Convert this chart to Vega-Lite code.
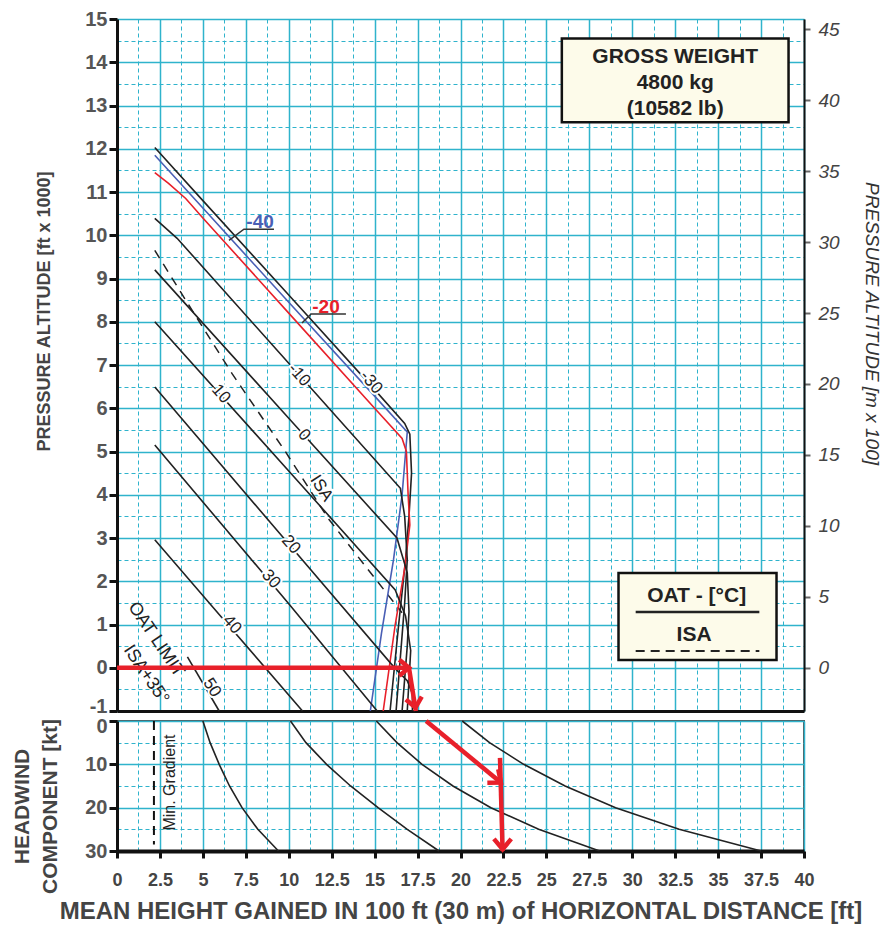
{
  "$schema": "https://vega.github.io/schema/vega-lite/v6.json",
  "background": "white",
  "padding": {"left": 10, "top": 9, "right": 5, "bottom": 5},
  "spacing": 10,
  "bounds": "flush",
  "config": {"font": "Liberation Sans", "axis": {"labelFont": "Liberation Sans", "titleFont": "Liberation Sans"}},
  "datasets": {
    "oat": [
      {"s": "-40", "x": 2.2, "y": 11.85}, {"s": "-40", "x": 5, "y": 10.63}, {"s": "-40", "x": 10, "y": 8.45}, {"s": "-40", "x": 15, "y": 6.28}, {"s": "-40", "x": 16.9, "y": 5.45}, {"s": "-40", "x": 16.6, "y": 4.0}, {"s": "-40", "x": 16.1, "y": 2.5}, {"s": "-40", "x": 15.4, "y": 0.8}, {"s": "-40", "x": 14.75, "y": -1},
      {"s": "-30", "x": 2.2, "y": 12.03}, {"s": "-30", "x": 5, "y": 10.8}, {"s": "-30", "x": 10, "y": 8.62}, {"s": "-30", "x": 15, "y": 6.43}, {"s": "-30", "x": 16.75, "y": 5.65}, {"s": "-30", "x": 17.05, "y": 5.4}, {"s": "-30", "x": 17.15, "y": 4.5}, {"s": "-30", "x": 17.0, "y": 3.5}, {"s": "-30", "x": 16.8, "y": 2.5}, {"s": "-30", "x": 16.4, "y": 1.0}, {"s": "-30", "x": 15.9, "y": -1},
      {"s": "-20", "x": 2.2, "y": 11.45}, {"s": "-20", "x": 3.0, "y": 11.2}, {"s": "-20", "x": 4.0, "y": 10.85}, {"s": "-20", "x": 5.0, "y": 10.4}, {"s": "-20", "x": 10, "y": 8.2}, {"s": "-20", "x": 15, "y": 6.0}, {"s": "-20", "x": 16.6, "y": 5.3}, {"s": "-20", "x": 16.85, "y": 5.0}, {"s": "-20", "x": 16.95, "y": 4.0}, {"s": "-20", "x": 17.05, "y": 3.3}, {"s": "-20", "x": 16.75, "y": 2.3}, {"s": "-20", "x": 16.2, "y": 1.0}, {"s": "-20", "x": 15.5, "y": -1},
      {"s": "-10", "x": 2.2, "y": 10.39}, {"s": "-10", "x": 3.5, "y": 9.93}, {"s": "-10", "x": 10, "y": 7.04}, {"s": "-10", "x": 16.5, "y": 4.15}, {"s": "-10", "x": 16.75, "y": 3.5}, {"s": "-10", "x": 16.9, "y": 2.5}, {"s": "-10", "x": 16.75, "y": 1.5}, {"s": "-10", "x": 16.25, "y": -1},
      {"s": "0", "x": 2.2, "y": 9.2}, {"s": "0", "x": 10, "y": 5.77}, {"s": "0", "x": 16.3, "y": 3.0}, {"s": "0", "x": 16.9, "y": 2.2}, {"s": "0", "x": 17.0, "y": 1.3}, {"s": "0", "x": 16.9, "y": 0.5}, {"s": "0", "x": 16.6, "y": -1},
      {"s": "10", "x": 2.2, "y": 8.0}, {"s": "10", "x": 10, "y": 4.55}, {"s": "10", "x": 16.2, "y": 1.8}, {"s": "10", "x": 16.8, "y": 1.2}, {"s": "10", "x": 17.1, "y": 0.4}, {"s": "10", "x": 16.9, "y": -1},
      {"s": "20", "x": 2.2, "y": 6.49}, {"s": "20", "x": 10, "y": 2.86}, {"s": "20", "x": 16.2, "y": -0.02}, {"s": "20", "x": 16.9, "y": -0.3}, {"s": "20", "x": 17.2, "y": -0.6}, {"s": "20", "x": 17.2, "y": -1},
      {"s": "30", "x": 2.2, "y": 5.15}, {"s": "30", "x": 10, "y": 1.48}, {"s": "30", "x": 15.15, "y": -1},
      {"s": "40", "x": 2.2, "y": 2.96}, {"s": "40", "x": 6.0, "y": 1.21}, {"s": "40", "x": 10.8, "y": -1},
      {"s": "50", "x": 4.1, "y": 0.25}, {"s": "50", "x": 5.95, "y": -1}
    ],
    "isa": [
      {"x": 2.2, "y": 9.65}, {"x": 4.0, "y": 8.5}, {"x": 6.7, "y": 6.8}, {"x": 9.8, "y": 5.0}, {"x": 12.3, "y": 3.45}, {"x": 14.5, "y": 2.33}, {"x": 16.6, "y": 1.27}
    ],
    "lbl1": [
      {"t": "-30", "x": 14.8, "y": 6.6}, {"t": "-10", "x": 10.6, "y": 6.77}, {"t": "10", "x": 6.05, "y": 6.33}, {"t": "0", "x": 10.9, "y": 5.38},
      {"t": "20", "x": 10.13, "y": 2.85}, {"t": "30", "x": 8.97, "y": 2.05}, {"t": "40", "x": 6.7, "y": 1.0}
    ],
    "lbl2": [{"t": "ISA", "x": 11.9, "y": 4.15}, {"t": "50", "x": 5.53, "y": -0.46}],
    "lbl3": [{"t": "OAT LIMIT", "x": 2.27, "y": 0.65}, {"t": "ISA+35°", "x": 1.69, "y": -0.16}],
    "clbl": [{"s": "-40", "x": 8.33, "y": 10.3}, {"s": "-20", "x": 12.17, "y": 8.34}],
    "lead": [
      {"g": "b", "x": 6.52, "y": 9.88}, {"g": "b", "x": 7.39, "y": 10.14}, {"g": "b", "x": 9.14, "y": 10.14},
      {"g": "r", "x": 10.77, "y": 7.97}, {"g": "r", "x": 11.3, "y": 8.18}, {"g": "r", "x": 13.33, "y": 8.18}
    ],
    "boxes": [{"x": 25.9, "x2": 39.1, "y": 14.55, "y2": 12.61}, {"x": 29.2, "x2": 38.4, "y": 2.19, "y2": 0.18}],
    "boxtext": [
      {"t": "GROSS WEIGHT", "x": 32.5, "y": 14.11}, {"t": "4800 kg", "x": 32.5, "y": 13.51}, {"t": "(10582 lb)", "x": 32.5, "y": 12.93},
      {"t": "OAT - [°C]", "x": 33.75, "y": 1.66}, {"t": "ISA", "x": 33.6, "y": 0.76}
    ],
    "legsolid": [{"x": 30.2, "x2": 37.4, "y": 1.29}],
    "legdash": [{"x": 30.2, "x2": 37.4, "y": 0.39}],
    "arrtop": [{"p": "h", "x": 0, "y": 0}, {"p": "h", "x": 17.0, "y": 0}, {"p": "d", "x": 17.0, "y": 0}, {"p": "d", "x": 17.4, "y": -1}],
    "headR": [{"x": 17.0, "y": 0}],
    "headD1": [{"x": 17.38, "y": -0.92}],
    "right": [{"x": 0, "m": 0}],
    "hwc": [
      {"c": "1", "x": 5, "hw": 0}, {"c": "1", "x": 5.42, "hw": 5}, {"c": "1", "x": 5.95, "hw": 10}, {"c": "1", "x": 6.55, "hw": 15}, {"c": "1", "x": 7.28, "hw": 20}, {"c": "1", "x": 8.2, "hw": 25}, {"c": "1", "x": 9.4, "hw": 30},
      {"c": "2", "x": 10.1, "hw": 0}, {"c": "2", "x": 11.0, "hw": 5}, {"c": "2", "x": 12.2, "hw": 10}, {"c": "2", "x": 13.6, "hw": 15}, {"c": "2", "x": 15.2, "hw": 20}, {"c": "2", "x": 16.9, "hw": 25}, {"c": "2", "x": 18.75, "hw": 30},
      {"c": "3", "x": 15.1, "hw": 0}, {"c": "3", "x": 16.3, "hw": 5}, {"c": "3", "x": 17.76, "hw": 10}, {"c": "3", "x": 19.56, "hw": 15}, {"c": "3", "x": 21.77, "hw": 20}, {"c": "3", "x": 24.55, "hw": 25}, {"c": "3", "x": 28.1, "hw": 30},
      {"c": "4", "x": 20.1, "hw": 0}, {"c": "4", "x": 21.69, "hw": 5}, {"c": "4", "x": 23.68, "hw": 10}, {"c": "4", "x": 26.09, "hw": 15}, {"c": "4", "x": 29.03, "hw": 20}, {"c": "4", "x": 32.73, "hw": 25}, {"c": "4", "x": 37.5, "hw": 30}
    ],
    "mingrad": [{"x": 2.15, "hw": 0}, {"x": 2.15, "hw": 28.5}],
    "mintext": [{"t": "Min. Gradient", "x": 3.1, "hw": 14.2}],
    "arrbot": [{"p": "a", "x": 18.0, "hw": 0}, {"p": "a", "x": 22.35, "hw": 14.2}, {"p": "b", "x": 22.3, "hw": 8.5}, {"p": "b", "x": 22.45, "hw": 30}],
    "headDiag": [{"x": 22.35, "hw": 14.2}],
    "headDown": [{"x": 22.45, "hw": 29.6}]
  },
  "vconcat": [
    {
      "width": 687,
      "height": 692,
      "view": {"stroke": null},
      "encoding": {
        "x": {
          "field": "x", "type": "quantitative",
          "scale": {"domain": [0, 40], "nice": false, "zero": false},
          "axis": {
            "values": [0, 1.25, 2.5, 3.75, 5, 6.25, 7.5, 8.75, 10, 11.25, 12.5, 13.75, 15, 16.25, 17.5, 18.75, 20, 21.25, 22.5, 23.75, 25, 26.25, 27.5, 28.75, 30, 31.25, 32.5, 33.75, 35, 36.25, 37.5, 38.75, 40],
            "labels": false, "ticks": false, "title": null,
            "domainColor": "#111", "domainWidth": 3,
            "grid": true, "gridColor": "#2fb3cc",
            "gridWidth": {"condition": {"test": "datum.value % 2.5 !== 0", "value": 1}, "value": 1.5},
            "gridDash": {"condition": {"test": "datum.value % 2.5 !== 0", "value": [4, 3]}, "value": []}
          }
        }
      },
      "layer": [
        {
          "encoding": {
            "y": {
              "field": "y", "type": "quantitative",
              "scale": {"domain": [-1, 15], "nice": false, "zero": false},
              "axis": {
                "values": [-1, -0.5, 0, 0.5, 1, 1.5, 2, 2.5, 3, 3.5, 4, 4.5, 5, 5.5, 6, 6.5, 7, 7.5, 8, 8.5, 9, 9.5, 10, 10.5, 11, 11.5, 12, 12.5, 13, 13.5, 14, 14.5, 15],
                "labelExpr": "datum.value % 1 === 0 ? '' + datum.value : ''",
                "labelOverlap": false,
                "labelOffset": {"condition": {"test": "datum.value === -1", "value": -5}, "value": 0},
                "tickOpacity": {"condition": {"test": "datum.value % 1 !== 0", "value": 0}, "value": 1},
                "tickSize": 8, "tickWidth": 3, "tickColor": "#111",
                "domainColor": "#111", "domainWidth": 3,
                "labelFontSize": 20, "labelFontWeight": "bold", "labelColor": "#555", "labelPadding": 2,
                "title": "PRESSURE ALTITUDE [ft x 1000]", "titleFontSize": 18, "titleFontWeight": "bold", "titleColor": "#444", "titlePadding": 31, "titleY": 292,
                "grid": true, "gridColor": "#2fb3cc",
                "gridWidth": {"condition": {"test": "datum.value % 1 !== 0", "value": 1}, "value": 1.5},
                "gridDash": {"condition": {"test": "datum.value % 1 !== 0", "value": [4, 3]}, "value": []}
              }
            }
          },
          "layer": [
            {"data": {"name": "boxes"}, "mark": {"type": "rect", "fill": "#fdfbea", "stroke": "#111", "strokeWidth": 2.5}, "encoding": {"x2": {"field": "x2"}, "y2": {"field": "y2"}}},
            {"data": {"name": "boxtext"}, "mark": {"type": "text", "fontSize": 21, "fontWeight": "bold", "color": "#222", "align": "center", "baseline": "middle"}, "encoding": {"text": {"field": "t"}}},
            {"data": {"name": "legsolid"}, "mark": {"type": "rule", "color": "#222", "strokeWidth": 2.5}, "encoding": {"x2": {"field": "x2"}}},
            {"data": {"name": "legdash"}, "mark": {"type": "rule", "color": "#222", "strokeWidth": 2, "strokeDash": [9, 6]}, "encoding": {"x2": {"field": "x2"}}},
            {"data": {"name": "isa"}, "mark": {"type": "line", "color": "#222", "strokeWidth": 1.5, "strokeDash": [9, 7]}, "encoding": {"order": {"field": "y", "sort": "descending"}}},
            {"data": {"name": "oat"}, "mark": {"type": "line", "strokeWidth": 1.6},
             "encoding": {
               "detail": {"field": "s"},
               "order": {"field": "y", "sort": "descending"},
               "color": {"field": "s", "type": "nominal", "legend": null,
                 "scale": {"domain": ["-40", "-30", "-20", "-10", "0", "10", "20", "30", "40", "50"], "range": ["#4a5fb5", "#222222", "#e8202a", "#222222", "#222222", "#222222", "#222222", "#222222", "#222222", "#222222"]}}
             }},
            {"data": {"name": "lead"}, "mark": {"type": "line", "color": "#333", "strokeWidth": 1.5}, "encoding": {"detail": {"field": "g"}}},
            {"data": {"name": "clbl"}, "mark": {"type": "text", "fontSize": 19, "fontWeight": "bold", "align": "center", "baseline": "middle"},
             "encoding": {"text": {"field": "s"}, "color": {"field": "s", "type": "nominal", "legend": null, "scale": {"domain": ["-40", "-20"], "range": ["#4a5fb5", "#e8202a"]}}}},
            {"data": {"name": "lbl1"}, "mark": {"type": "text", "fontSize": 17, "angle": 49, "stroke": "white", "strokeWidth": 4, "align": "center", "baseline": "middle"}, "encoding": {"text": {"field": "t"}}},
            {"data": {"name": "lbl1"}, "mark": {"type": "text", "fontSize": 17, "angle": 49, "color": "#222", "align": "center", "baseline": "middle"}, "encoding": {"text": {"field": "t"}}},
            {"data": {"name": "lbl2"}, "mark": {"type": "text", "fontSize": 17, "angle": 57, "stroke": "white", "strokeWidth": 4, "align": "center", "baseline": "middle"}, "encoding": {"text": {"field": "t"}}},
            {"data": {"name": "lbl2"}, "mark": {"type": "text", "fontSize": 17, "angle": 57, "color": "#222", "align": "center", "baseline": "middle"}, "encoding": {"text": {"field": "t"}}},
            {"data": {"name": "lbl3"}, "mark": {"type": "text", "fontSize": 18, "angle": 56, "color": "#222", "align": "center", "baseline": "middle"}, "encoding": {"text": {"field": "t"}}},
            {"data": {"name": "arrtop"}, "mark": {"type": "line", "color": "#e8202a", "strokeWidth": 4.5}, "encoding": {"detail": {"field": "p"}}},
            {"data": {"name": "headR"}, "mark": {"type": "point", "shape": "M-1.2,-1L0,0L-1.2,1", "filled": false, "stroke": "#e8202a", "strokeWidth": 4.5, "size": 260, "angle": 0, "opacity": 1}},
            {"data": {"name": "headD1"}, "mark": {"type": "point", "shape": "M-1.2,-1L0,0L-1.2,1", "filled": false, "stroke": "#e8202a", "strokeWidth": 4.5, "size": 260, "angle": 80, "opacity": 1}}
          ]
        },
        {
          "data": {"name": "right"},
          "mark": {"type": "point", "opacity": 0},
          "encoding": {
            "y": {
              "field": "m", "type": "quantitative",
              "scale": {"domain": [-3.048, 45.72], "nice": false, "zero": false},
              "axis": {
                "orient": "right", "values": [0, 5, 10, 15, 20, 25, 30, 35, 40, 45],
                "title": "PRESSURE ALTITUDE [m x 100]", "titleFontStyle": "italic", "titleFontWeight": "normal", "titleFontSize": 19, "titleColor": "#333", "titlePadding": 22, "titleY": 304,
                "labelFontStyle": "italic", "labelFontSize": 19, "labelColor": "#444", "labelPadding": 8,
                "tickColor": "#666", "tickSize": 6, "tickWidth": 2,
                "domainColor": "#111", "domainWidth": 2, "grid": false
              }
            }
          }
        }
      ],
      "resolve": {"scale": {"y": "independent"}, "axis": {"y": "independent"}}
    },
    {
      "width": 687,
      "height": 130,
      "view": {"stroke": "#555", "strokeWidth": 2},
      "encoding": {
        "x": {
          "field": "x", "type": "quantitative",
          "scale": {"domain": [0, 40], "nice": false, "zero": false},
          "axis": {
            "values": [0, 1.25, 2.5, 3.75, 5, 6.25, 7.5, 8.75, 10, 11.25, 12.5, 13.75, 15, 16.25, 17.5, 18.75, 20, 21.25, 22.5, 23.75, 25, 26.25, 27.5, 28.75, 30, 31.25, 32.5, 33.75, 35, 36.25, 37.5, 38.75, 40],
            "labelExpr": "datum.value % 2.5 === 0 ? '' + datum.value : ''",
            "labelOverlap": false, "labelFlush": false,
            "tickOpacity": {"condition": {"test": "datum.value % 2.5 !== 0", "value": 0}, "value": 1},
            "tickSize": 7, "tickWidth": 3, "tickColor": "#111",
            "domainColor": "#111", "domainWidth": 4,
            "labelFontSize": 18, "labelFontWeight": "bold", "labelColor": "#444", "labelPadding": 13,
            "title": "MEAN HEIGHT GAINED IN 100 ft (30 m) of HORIZONTAL DISTANCE [ft]", "titleFontSize": 24, "titleFontWeight": "bold", "titleColor": "#444", "titlePadding": 10,
            "grid": true, "gridColor": "#2fb3cc",
            "gridWidth": {"condition": {"test": "datum.value % 2.5 !== 0", "value": 1}, "value": 1.5},
            "gridDash": {"condition": {"test": "datum.value % 2.5 !== 0", "value": [4, 3]}, "value": []}
          }
        },
        "y": {
          "field": "hw", "type": "quantitative",
          "scale": {"domain": [0, 30], "nice": false, "zero": false, "reverse": true},
          "axis": {
            "values": [0, 5, 10, 15, 20, 25, 30],
            "labelExpr": "datum.value % 10 === 0 ? '' + datum.value : ''",
            "labelOverlap": false,
            "labelOffset": {"condition": {"test": "datum.value === 0", "value": 5}, "value": 0},
            "tickOpacity": {"condition": {"test": "datum.value % 10 !== 0", "value": 0}, "value": 1},
            "tickSize": 8, "tickWidth": 3, "tickColor": "#111",
            "domainColor": "#111", "domainWidth": 3,
            "labelFontSize": 20, "labelFontWeight": "bold", "labelColor": "#555", "labelPadding": 2,
            "title": ["HEADWIND", "COMPONENT [kt]"], "titleFontSize": 21, "titleLineHeight": 28, "titleFontWeight": "bold", "titleColor": "#444", "titlePadding": 24, "titleY": 85,
            "grid": true, "gridColor": "#2fb3cc",
            "gridWidth": {"condition": {"test": "datum.value % 10 !== 0", "value": 1}, "value": 1.5},
            "gridDash": {"condition": {"test": "datum.value % 10 !== 0", "value": [4, 3]}, "value": []}
          }
        }
      },
      "layer": [
        {"data": {"name": "hwc"}, "mark": {"type": "line", "color": "#222", "strokeWidth": 1.6}, "encoding": {"detail": {"field": "c"}, "order": {"field": "hw", "sort": "ascending"}}},
        {"data": {"name": "mingrad"}, "mark": {"type": "line", "color": "#111", "strokeWidth": 2, "strokeDash": [9, 6]}, "encoding": {"order": {"field": "hw"}}},
        {"data": {"name": "mintext"}, "mark": {"type": "text", "fontSize": 16, "angle": 270, "color": "#222", "align": "center", "baseline": "middle"}, "encoding": {"text": {"field": "t"}}},
        {"data": {"name": "arrbot"}, "mark": {"type": "line", "color": "#e8202a", "strokeWidth": 4.5}, "encoding": {"detail": {"field": "p"}, "order": {"field": "hw"}}},
        {"data": {"name": "headDiag"}, "mark": {"type": "point", "shape": "M-1.2,-1L0,0L-1.2,1", "filled": false, "stroke": "#e8202a", "strokeWidth": 4.5, "size": 300, "angle": 39, "opacity": 1}},
        {"data": {"name": "headDown"}, "mark": {"type": "point", "shape": "M-1.2,-1L0,0L-1.2,1", "filled": false, "stroke": "#e8202a", "strokeWidth": 4.5, "size": 300, "angle": 90, "opacity": 1}}
      ]
    }
  ]
}
